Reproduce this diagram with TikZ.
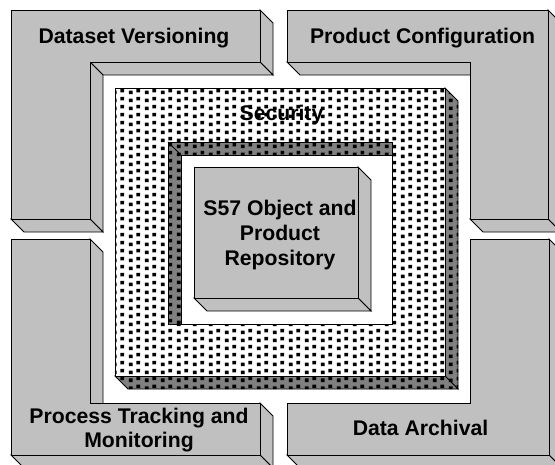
\documentclass[tikz,border=0pt]{standalone}
\usepackage{fontspec}
\setmainfont{Liberation Sans}
\usetikzlibrary{patterns.meta}
\definecolor{boxgray}{HTML}{C0C0C0}
\definecolor{walldark}{HTML}{808080}
\tikzdeclarepattern{
  name=secdots,
  type=uncolored,
  bounding box={(0pt,0pt) and (16pt,8.2pt)},
  tile size={(16pt,8.2pt)},
  code={
    \fill (1pt,1pt) rectangle (4.8pt,4.8pt);
    \fill (9pt,3pt) rectangle (12.8pt,6.8pt);
  }
}
\tikzset{
  face/.style={draw=black, line width=0.9pt, fill=boxgray, line join=miter},
  dotface/.style={line width=0.9pt, preaction={fill=white}, preaction={pattern=secdots, pattern color=black}, draw=black},
  wallface/.style={line width=0.9pt, preaction={fill=walldark}, preaction={pattern=secdots, pattern color=black}, draw=black},
  lbl/.style={font=\fontsize{21.2}{24}\selectfont\bfseries, inner sep=0pt, align=center, text=black},
}
\begin{document}
\begin{tikzpicture}[x=1pt, y=-1pt]
\useasboundingbox (0,0) rectangle (555,464);
\clip (0,0) rectangle (555,464);
\fill[white] (0,0) rectangle (555,464);

% ---- top-left L : Dataset Versioning
\draw[face] (260,10) -- (273,23) -- (273,75) -- (260,62) -- cycle;
\draw[face] (90,62) -- (260,62) -- (273,75) -- (103,75) -- cycle;
\draw[face] (90,62) -- (103,75) -- (103,232) -- (90,219) -- cycle;
\draw[face] (11,219) -- (90,219) -- (103,232) -- (24,232) -- cycle;
\draw[face] (11,10) -- (260,10) -- (260,62) -- (90,62) -- (90,219) -- (11,219) -- cycle;
\node[lbl, anchor=base] (dv) at (134,43) {Dataset Versioning};

% ---- top-right L : Product Configuration
\draw[face] (548,10) -- (561,23) -- (561,232) -- (548,219) -- cycle;
\draw[face] (287,62) -- (470,62) -- (483,75) -- (300,75) -- cycle;
\draw[face] (470,219) -- (548,219) -- (561,232) -- (483,232) -- cycle;
\draw[face] (287,10) -- (548,10) -- (548,219) -- (470,219) -- (470,62) -- (287,62) -- cycle;
\node[lbl, anchor=base] (pc) at (422.5,43) {Product Configuration};

% ---- bottom-left L : Process Tracking and Monitoring
\draw[face] (90,239) -- (103,252) -- (103,416) -- (90,403) -- cycle;
\draw[face] (260,403) -- (273,416) -- (273,468) -- (260,455) -- cycle;
\draw[face] (11,455) -- (260,455) -- (273,468) -- (24,468) -- cycle;
\draw[face] (11,239) -- (90,239) -- (90,403) -- (260,403) -- (260,455) -- (11,455) -- cycle;
\node[lbl] (pt) at (139,429.7) {Process Tracking and\\Monitoring};

% ---- bottom-right L : Data Archival
\draw[face] (549,239) -- (562,252) -- (562,468) -- (549,455) -- cycle;
\draw[face] (287,455) -- (549,455) -- (562,468) -- (300,468) -- cycle;
\draw[face] (470,239) -- (549,239) -- (549,455) -- (287,455) -- (287,403) -- (470,403) -- cycle;
\node[lbl, anchor=base] (da) at (420.5,435) {Data Archival};

% ---- Security frame
\path[wallface] (445,88) -- (458,101) -- (458,389) -- (445,376) -- cycle;
\path[wallface] (115,376) -- (445,376) -- (458,389) -- (128,389) -- cycle;
\path[dotface] (115,88) rectangle (445,376);
\path[wallface] (168,142) rectangle (392,324);
\draw[line width=0.9pt] (168,142) -- (181,155);
\filldraw[fill=white, draw=black, line width=0.9pt] (181,155) -- (392,155) -- (392,324) -- (181,324) -- cycle;
\draw[line width=0.9pt] (168,142) rectangle (392,324);
\node[lbl, anchor=base] (sec) at (281.5,120) {Security};

% ---- central repository box
\draw[face] (358,167) -- (371,180) -- (371,311) -- (358,298) -- cycle;
\draw[face] (194,298) -- (358,298) -- (371,311) -- (207,311) -- cycle;
\draw[face] (194,167) rectangle (358,298);
\node[lbl, font=\fontsize{21.2}{25}\selectfont\bfseries] (repo) at (280,234.6) {S57 Object and\\Product\\Repository};
\end{tikzpicture}
\end{document}
